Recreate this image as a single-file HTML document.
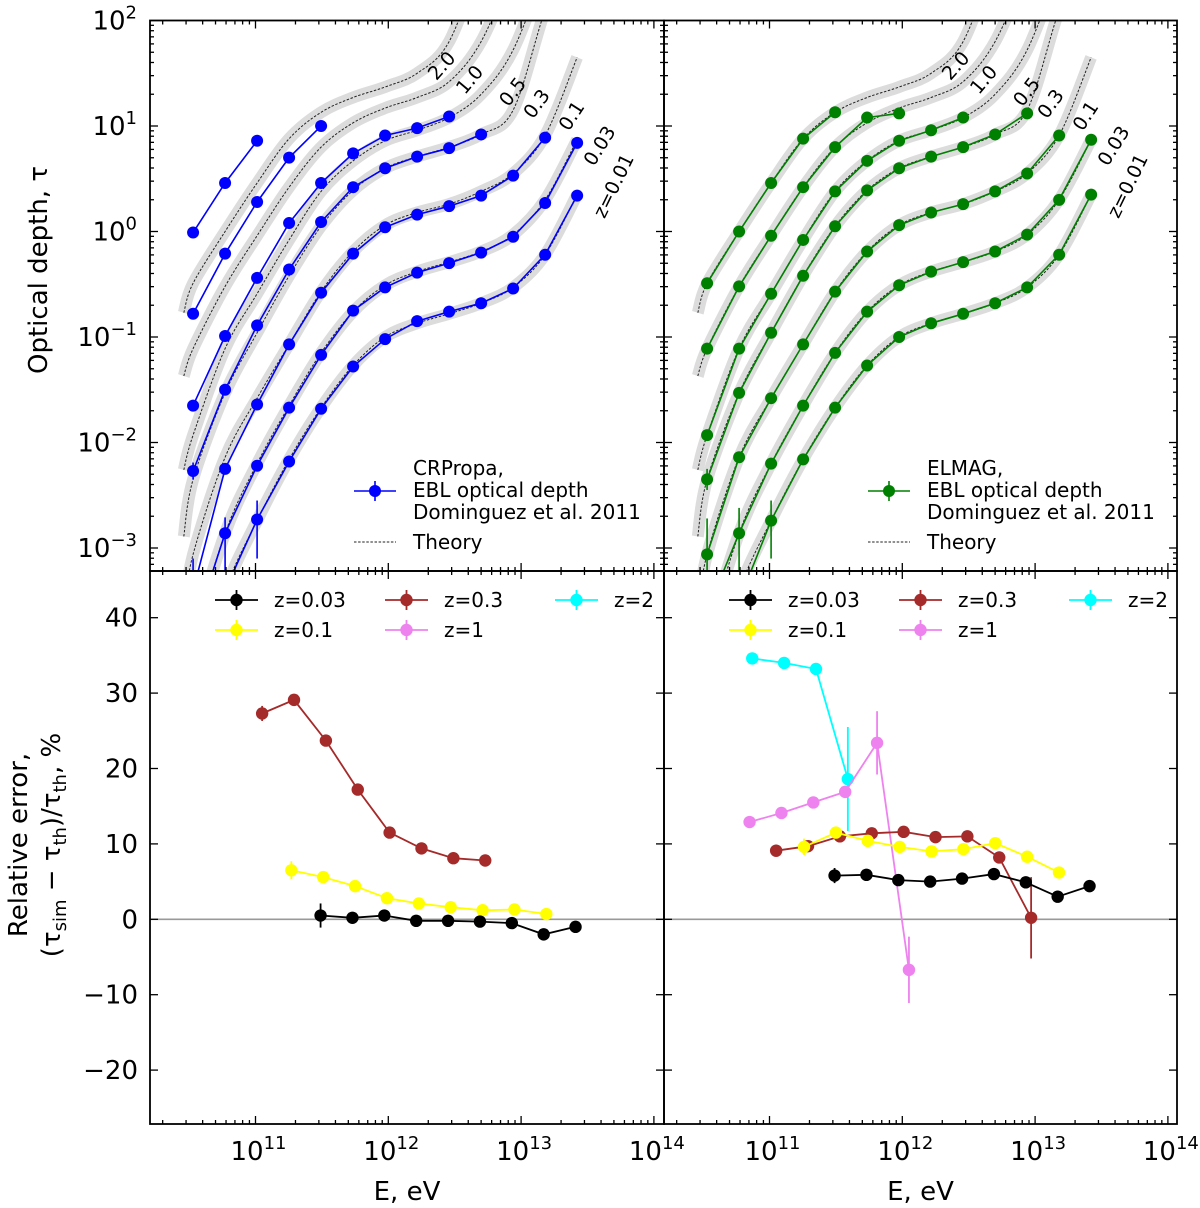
<!DOCTYPE html>
<html><head><meta charset="utf-8"><title>EBL optical depth</title>
<style>
html,body{margin:0;padding:0;background:#fff;}
svg{display:block;font-family:"DejaVu Sans","Liberation Sans",sans-serif;}
</style></head>
<body>
<svg id="chart" width="1200" height="1208" viewBox="0 0 1200 1208" xmlns="http://www.w3.org/2000/svg">
<defs>
<clipPath id="clipTL"><rect x="150" y="20.5" width="514" height="550.5"/></clipPath>
<clipPath id="clipTR"><rect x="664" y="20.5" width="513" height="550.5"/></clipPath>
<clipPath id="clipBL"><rect x="150" y="571" width="514" height="553"/></clipPath>
<clipPath id="clipBR"><rect x="664" y="571" width="513" height="553"/></clipPath>
</defs>
</svg>
<script>
// ---------- data (top panels: log10 optical depth) ----------
const simE = [10.53,10.771,11.012,11.253,11.494,11.735,11.976,12.217,12.458,12.699,12.94,13.181,13.422];
const theoryE = [10.46,10.53,10.771,11.012,11.253,11.494,11.735,11.976,12.217,12.458,12.699,12.94,13.181,13.422];
const redshifts = ['2.0','1.0','0.5','0.3','0.1','0.03','z=0.01'];
const thZ2   = [-0.77,-0.49,0.0,0.46,0.88,1.13,1.27,1.37,1.5,1.8,2.6,null,null,null];
const thZ1   = [-1.37,-1.11,-0.52,-0.04,0.42,0.80,1.03,1.17,1.27,1.42,1.8,2.5,null,null];
const thZ05  = [-2.26,-1.93,-1.11,-0.59,-0.08,0.38,0.67,0.86,0.96,1.08,1.3,1.72,2.5,null];
const thZ03  = [-2.89,-2.35,-1.53,-0.96,-0.42,0.05,0.39,0.60,0.71,0.80,0.92,1.15,2.1,2.9];
const thZ01  = [-3.6,-3.06,-2.14,-1.58,-1.07,-0.57,-0.19,0.06,0.18,0.26,0.38,0.55,0.91,1.65];
const thZ003 = [-4.6,-3.9,-2.86,-2.2,-1.65,-1.15,-0.76,-0.51,-0.38,-0.29,-0.19,-0.03,0.30,0.87];
const thZ001 = [-5.3,-4.4,-3.4,-2.74,-2.16,-1.67,-1.27,-1.0,-0.87,-0.78,-0.68,-0.53,-0.22,0.35];

const crZ2   = [-0.01,0.46,0.86,null,null,null,null,null,null,null,null,null,null];
const crZ1   = [-0.78,-0.21,0.28,0.70,1.0,null,null,null,null,null,null,null,null];
const crZ05  = [-1.65,-0.99,-0.44,0.08,0.46,0.74,0.91,0.98,1.09,null,null,null,null];
const crZ03  = [-2.27,-1.5,-0.89,-0.36,0.09,0.42,0.60,0.71,0.79,0.92,null,null,null];
const crZ01  = [-3.4,-2.25,-1.64,-1.07,-0.58,-0.21,0.04,0.16,0.24,0.34,0.53,0.89,null];
const crZ003 = [-3.8,-2.86,-2.22,-1.67,-1.17,-0.75,-0.53,-0.39,-0.30,-0.20,-0.05,0.27,0.84];
const crZ001 = [null,-3.4,-2.73,-2.18,-1.68,-1.28,-1.02,-0.85,-0.76,-0.68,-0.54,-0.22,0.34];
const crErr = [[3,0,0.08,0.08],[4,0,0.3,0.4],[5,1,0.15,0.5],[6,2,0.18,0.37]];

const elZ2   = [-0.49,0.0,0.46,0.88,1.13,null,null,null,null,null,null,null,null];
const elZ1   = [-1.11,-0.52,-0.04,0.42,0.80,1.08,1.12,null,null,null,null,null,null];
const elZ05  = [-1.93,-1.11,-0.59,-0.08,0.38,0.67,0.86,0.96,1.08,null,null,null,null];
const elZ03  = [-2.35,-1.53,-0.96,-0.42,0.05,0.39,0.60,0.71,0.80,0.92,1.12,null,null];
const elZ01  = [-3.06,-2.14,-1.58,-1.07,-0.57,-0.19,0.06,0.18,0.26,0.38,0.55,0.91,null];
const elZ003 = [-3.6,-2.86,-2.2,-1.65,-1.15,-0.76,-0.51,-0.38,-0.29,-0.19,-0.03,0.30,0.87];
const elZ001 = [null,-3.5,-2.74,-2.16,-1.67,-1.27,-1.0,-0.87,-0.78,-0.68,-0.53,-0.22,0.35];
const elErr = [[3,0,0.1,0.1],[4,0,0.34,0.3],[5,1,0.24,0.5],[6,2,0.19,0.36]];

// ---------- data (bottom panels: relative error, %) ----------
const relLabels = ['z=0.03','z=0.1','z=0.3','z=1','z=2'];
const relColors = ['#000000','#ffff00','#a52a2a','#ee82ee','#00ffff'];
const lBlackE = [11.49,11.73,11.97,12.21,12.45,12.69,12.93,13.17,13.41];
const lBlackV = [0.5,0.2,0.5,-0.2,-0.2,-0.3,-0.5,-2.0,-1.0];
const lBlackErr = [1.6,0,0,0,0,0,0,0,0];
const lYellowE = [11.27,11.51,11.75,11.99,12.23,12.47,12.71,12.95,13.19];
const lYellowV = [6.5,5.6,4.4,2.8,2.1,1.6,1.2,1.3,0.7];
const lYellowErr = [1.2,0,0,0,0,0,0,0,0];
const lBrownE = [11.05,11.29,11.53,11.77,12.01,12.25,12.49,12.73];
const lBrownV = [27.3,29.1,23.7,17.2,11.5,9.4,8.1,7.8];
const lBrownErr = [1.0,0,0,0,0,0,0,0];

const rBlackE = [11.49,11.73,11.97,12.21,12.45,12.69,12.93,13.17,13.41];
const rBlackV = [5.8,5.9,5.2,5.0,5.4,6.0,4.9,3.0,4.4];
const rBlackErr = [1.0,0,0,0,0,0,0,0,0];
const rYellowE = [11.26,11.50,11.74,11.98,12.22,12.46,12.70,12.94,13.18];
const rYellowV = [9.6,11.5,10.4,9.6,9.0,9.3,10.1,8.3,6.2];
const rYellowErr = [1.1,0,0,0,0,0,0,0,0];
const rBrownE = [11.05,11.29,11.53,11.77,12.01,12.25,12.49,12.73,12.97];
const rBrownV = [9.1,9.7,11.0,11.4,11.6,10.9,11.0,8.2,0.2];
const rBrownErr = [0.8,0,0,0,0,0,0,0,5.4];
const rVioletE = [10.85,11.09,11.33,11.57,11.81,12.05];
const rVioletV = [12.9,14.1,15.5,16.9,23.4,-6.7];
const rVioletErr = [0,0,0,0,4.2,4.4];
const rCyanE = [10.87,11.11,11.35,11.59];
const rCyanV = [34.6,34.0,33.2,18.6];
const rCyanErr = [0,0,0,6.9];

// ---------- scales ----------
const NS = 'http://www.w3.org/2000/svg';
const svg = document.getElementById('chart');
const DEC = 132.8;
const panels = [{x0:150, x1:664, e11:255.5}, {x0:664, x1:1177, e11:769.5}];
const TOP = {y0:20.5, y1:571}, BOT = {y0:571, y1:1124};
function xS(p, logE){ return p.e11 + (logE - 11) * DEC; }
function yTop(lg){ return 20.5 + (2 - lg) * 105.5; }
function yBot(v){ return 919.3 - v * 7.54; }
function mk(tag, attrs, parent){
  const e = document.createElementNS(NS, tag);
  for (const k in attrs) e.setAttribute(k, attrs[k]);
  (parent || svg).appendChild(e);
  return e;
}
function smooth(pts){
  let d = 'M' + pts[0][0].toFixed(1) + ',' + pts[0][1].toFixed(1);
  for (let i = 0; i < pts.length - 1; i++){
    const p0 = pts[i-1] || pts[i], p1 = pts[i], p2 = pts[i+1], p3 = pts[i+2] || pts[i+1];
    const c1x = p1[0] + (p2[0]-p0[0])/6, c1y = p1[1] + (p2[1]-p0[1])/6;
    const c2x = p2[0] - (p3[0]-p1[0])/6, c2y = p2[1] - (p3[1]-p1[1])/6;
    d += ' C' + c1x.toFixed(1) + ',' + c1y.toFixed(1) + ' ' + c2x.toFixed(1) + ',' + c2y.toFixed(1) + ' ' + p2[0].toFixed(1) + ',' + p2[1].toFixed(1);
  }
  return d;
}

const theorySets = [thZ2, thZ1, thZ05, thZ03, thZ01, thZ003, thZ001];
const crSets = [crZ2, crZ1, crZ05, crZ03, crZ01, crZ003, crZ001];
const elSets = [elZ2, elZ1, elZ05, elZ03, elZ01, elZ003, elZ001];
const labelPos = [[442,66,-48],[470,80,-50],[513,92,-52],[537,104,-54],[572,116,-57],[600,146,-58],[614,186,-64]];

function topPanel(pi, sims, errs, color, legendTitle, side){
  const p = panels[pi];
  const g = mk('g', {'clip-path': 'url(#' + (pi ? 'clipTR' : 'clipTL') + ')'});
  
  
  theorySets.forEach(function(arr, si){
    const pts = [];
    arr.forEach(function(v, k){ if (v !== null) pts.push([xS(p, theoryE[k]), yTop(v)]); });
    const b = mk('path', {d: smooth(pts), fill:'none', stroke:'#dcdcdc', 'stroke-width':12, 'stroke-linecap':'butt'}, g);
    
    
  });
  theorySets.forEach(function(arr, si){
    const pts = [];
    arr.forEach(function(v, k){ if (v !== null) pts.push([xS(p, theoryE[k]), yTop(v)]); });
    const l = mk('path', {d: smooth(pts), fill:'none', stroke:'#222', 'stroke-width':1, 'stroke-dasharray':'2.5,1.6'}, g);
    
    
  });
  sims.forEach(function(arr, si){
    const pts = [];
    arr.forEach(function(v, k){ if (v !== null) pts.push([xS(p, simE[k]), yTop(v)]); });
    const pl = mk('polyline', {points: pts.map(function(q){return q[0].toFixed(1)+','+q[1].toFixed(1);}).join(' '), fill:'none', stroke:color, 'stroke-width':1.6}, g);
    
    
  });
  errs.forEach(function(e){
    const v = sims[e[0]][e[1]];
    const x = xS(p, simE[e[1]]);
    const eb = mk('line', {x1:x, x2:x, y1:yTop(v + e[2]), y2:yTop(v - e[3]), stroke:color, 'stroke-width':1.6}, g);
    
    
  });
  sims.forEach(function(arr, si){
    arr.forEach(function(v, k){
      if (v === null) return;
      const c = mk('circle', {cx: xS(p, simE[k]), cy: yTop(v), r: 6, fill: color}, g);
      
      
    });
  });
  labelPos.forEach(function(lp, i){
    const x = lp[0] + (p.x0 - 150), y = lp[1];
    const t = mk('text', {x:x, y:y, 'font-size':19, 'text-anchor':'middle', 'dominant-baseline':'central', transform:'rotate(' + lp[2] + ' ' + x + ' ' + y + ')', fill:'#000'});
    t.textContent = redshifts[i];
    
    
  });
  const ox = p.x0 - 150;
  const lg = mk('g', {});
  
  
  const ll = mk('line', {x1:354+ox, x2:396+ox, y1:491, y2:491, stroke:color, 'stroke-width':1.6}, lg);
  
  
  const le = mk('line', {x1:375+ox, x2:375+ox, y1:481, y2:501, stroke:color, 'stroke-width':1.6}, lg);
  
  
  const lc = mk('circle', {cx:375+ox, cy:491, r:6, fill:color}, lg);
  
  
  const texts = [[legendTitle, 475], ['EBL optical depth', 497], ['Dominguez et al. 2011', 519]];
  texts.forEach(function(tt){
    const t = mk('text', {x:413+ox, y:tt[1], 'font-size':20, fill:'#000'}, lg);
    t.textContent = tt[0];
    
    
  });
  const td = mk('line', {x1:354+ox, x2:396+ox, y1:542, y2:542, stroke:'#222', 'stroke-width':1, 'stroke-dasharray':'2.5,1.6'}, lg);
  
  
  const tt = mk('text', {x:413+ox, y:549, 'font-size':20, fill:'#000'}, lg);
  tt.textContent = 'Theory';
  
  
}

function bottomPanel(pi, series, side){
  const p = panels[pi];
  const g = mk('g', {'clip-path': 'url(#' + (pi ? 'clipBR' : 'clipBL') + ')'});
  
  
  const zl = mk('line', {x1:p.x0, x2:p.x1, y1:yBot(0), y2:yBot(0), stroke:'#999', 'stroke-width':1.6}, g);
  
  
  series.forEach(function(s){
    const pts = s.E.map(function(e, k){ return xS(p, e).toFixed(1) + ',' + yBot(s.V[k]).toFixed(1); });
    const pl = mk('polyline', {points: pts.join(' '), fill:'none', stroke:s.c, 'stroke-width':1.8}, g);
    
    
    s.E.forEach(function(e, k){
      if (s.err[k] > 0){
        const x = xS(p, e);
        const eb = mk('line', {x1:x, x2:x, y1:yBot(s.V[k] + s.err[k]), y2:yBot(s.V[k] - s.err[k]), stroke:s.c, 'stroke-width':1.8}, g);
        
        
      }
    });
    s.E.forEach(function(e, k){
      const c = mk('circle', {cx: xS(p, e), cy: yBot(s.V[k]), r: 6.2, fill: s.c}, g);
      
      
    });
  });
  const ox = p.x0 - 150;
  const lg = mk('g', {});
  
  
  const slots = [[0,0],[0,1],[1,0],[1,1],[2,0]];
  [0,1,2,3,4].forEach(function(i){
    const col = slots[i][0], row = slots[i][1];
    const x0 = 215 + col * 170 + ox, y = 600 + row * 30;
    const l = mk('line', {x1:x0, x2:x0+43, y1:y, y2:y, stroke:relColors[i], 'stroke-width':1.8}, lg);
    
    
    const e = mk('line', {x1:x0+21.5, x2:x0+21.5, y1:y-10, y2:y+10, stroke:relColors[i], 'stroke-width':1.8}, lg);
    
    
    const c = mk('circle', {cx:x0+21.5, cy:y, r:6.2, fill:relColors[i]}, lg);
    
    
    const t = mk('text', {x:x0+59, y:y+7, 'font-size':20, fill:'#000'}, lg);
    t.textContent = relLabels[i];
    
    
  });
}

function axes(p, box, isTop, side){
  const ag = mk('g', {stroke:'#000', 'stroke-width':1.3, fill:'none'});
  
  
  for (let dec = 10; dec <= 14; dec++){
    for (let m = 1; m <= 9; m++){
      const x = xS(p, dec + Math.log10(m));
      if (x < p.x0 + 1 || x > p.x1 - 1) continue;
      const len = m === 1 ? 8 : 4;
      mk('line', {x1:x, x2:x, y1:box.y1, y2:box.y1 - len}, ag);
      mk('line', {x1:x, x2:x, y1:box.y0, y2:box.y0 + len}, ag);
    }
  }
  if (isTop){
    for (let dec = -4; dec <= 2; dec++){
      for (let m = 1; m <= 9; m++){
        const y = yTop(dec + Math.log10(m));
        if (y < box.y0 + 1 || y > box.y1 - 1) continue;
        const len = m === 1 ? 8 : 4;
        mk('line', {x1:p.x0, x2:p.x0 + len, y1:y, y2:y}, ag);
        mk('line', {x1:p.x1, x2:p.x1 - len, y1:y, y2:y}, ag);
      }
    }
  } else {
    for (let v = -20; v <= 40; v += 10){
      const y = yBot(v);
      mk('line', {x1:p.x0, x2:p.x0 + 8, y1:y, y2:y}, ag);
      mk('line', {x1:p.x1, x2:p.x1 - 8, y1:y, y2:y}, ag);
    }
  }
  const fr = mk('rect', {x:p.x0, y:box.y0, width:p.x1 - p.x0, height:box.y1 - box.y0, 'stroke-width':1.8}, ag);
  
  
}

topPanel(0, crSets, crErr, '#0000ff', 'CRPropa,', 'left');
topPanel(1, elSets, elErr, '#008000', 'ELMAG,', 'right');
bottomPanel(0, [
  {n:'z0.3', E:lBrownE, V:lBrownV, err:lBrownErr, c:'#a52a2a'},
  {n:'z0.1', E:lYellowE, V:lYellowV, err:lYellowErr, c:'#ffff00'},
  {n:'z0.03', E:lBlackE, V:lBlackV, err:lBlackErr, c:'#000000'}
], 'left');
bottomPanel(1, [
  {n:'z2', E:rCyanE, V:rCyanV, err:rCyanErr, c:'#00ffff'},
  {n:'z1', E:rVioletE, V:rVioletV, err:rVioletErr, c:'#ee82ee'},
  {n:'z0.3', E:rBrownE, V:rBrownV, err:rBrownErr, c:'#a52a2a'},
  {n:'z0.1', E:rYellowE, V:rYellowV, err:rYellowErr, c:'#ffff00'},
  {n:'z0.03', E:rBlackE, V:rBlackV, err:rBlackErr, c:'#000000'}
], 'right');
axes(panels[0], TOP, true, 'left');
axes(panels[1], TOP, true, 'right');
axes(panels[0], BOT, false, 'left');
axes(panels[1], BOT, false, 'right');

const yTopTicks = [2,1,0,-1,-2,-3];
yTopTicks.forEach(function(d){
  const t = mk('text', {x:137, y:yTop(d) + 9, 'font-size':26, 'text-anchor':'end', fill:'#000'});
  
  
  t.appendChild(document.createTextNode('10'));
  const s = mk('tspan', {dy:-11, 'font-size':18}, t);
  s.textContent = d < 0 ? '\u2212' + (-d) : String(d);
});
const yBotTicks = [40,30,20,10,0,-10,-20];
yBotTicks.forEach(function(v){
  const t = mk('text', {x:138, y:yBot(v) + 9, 'font-size':26, 'text-anchor':'end', fill:'#000'});
  t.textContent = v < 0 ? '\u2212' + (-v) : String(v);
  
  
});
const xTicks = [11,12,13,14];
panels.forEach(function(p){
  xTicks.forEach(function(d){
    const t = mk('text', {x:xS(p, d) + 3, y:1160, 'font-size':26, 'text-anchor':'middle', fill:'#000'});
    
    
    t.appendChild(document.createTextNode('10'));
    const s = mk('tspan', {dy:-11, 'font-size':18}, t);
    s.textContent = String(d);
  });
  const xt = mk('text', {x:(p.x0 + p.x1) / 2, y:1200, 'font-size':26, 'text-anchor':'middle', fill:'#000'});
  xt.textContent = 'E, eV';
  
  
});
const yt = mk('text', {x:0, y:0, 'font-size':26, 'text-anchor':'middle', fill:'#000', transform:'translate(47,270) rotate(-90)'});
yt.textContent = 'Optical depth, \u03c4';


const yb1 = mk('text', {x:0, y:0, 'font-size':26, 'text-anchor':'middle', fill:'#000', transform:'translate(27,845) rotate(-90)'});
yb1.textContent = 'Relative error,';


const yb2 = mk('text', {x:0, y:0, 'font-size':26, 'text-anchor':'middle', fill:'#000', transform:'translate(60,845) rotate(-90)'});


yb2.appendChild(document.createTextNode('(\u03c4'));
const s1 = mk('tspan', {dy:6, 'font-size':18}, yb2); s1.textContent = 'sim';
const s2 = mk('tspan', {dy:-6}, yb2); s2.textContent = ' \u2212 \u03c4';
const s3 = mk('tspan', {dy:6, 'font-size':18}, yb2); s3.textContent = 'th';
const s4 = mk('tspan', {dy:-6}, yb2); s4.textContent = ')/\u03c4';
const s5 = mk('tspan', {dy:6, 'font-size':18}, yb2); s5.textContent = 'th';
const s6 = mk('tspan', {dy:-6}, yb2); s6.textContent = ', %';
</script>
</body></html>
